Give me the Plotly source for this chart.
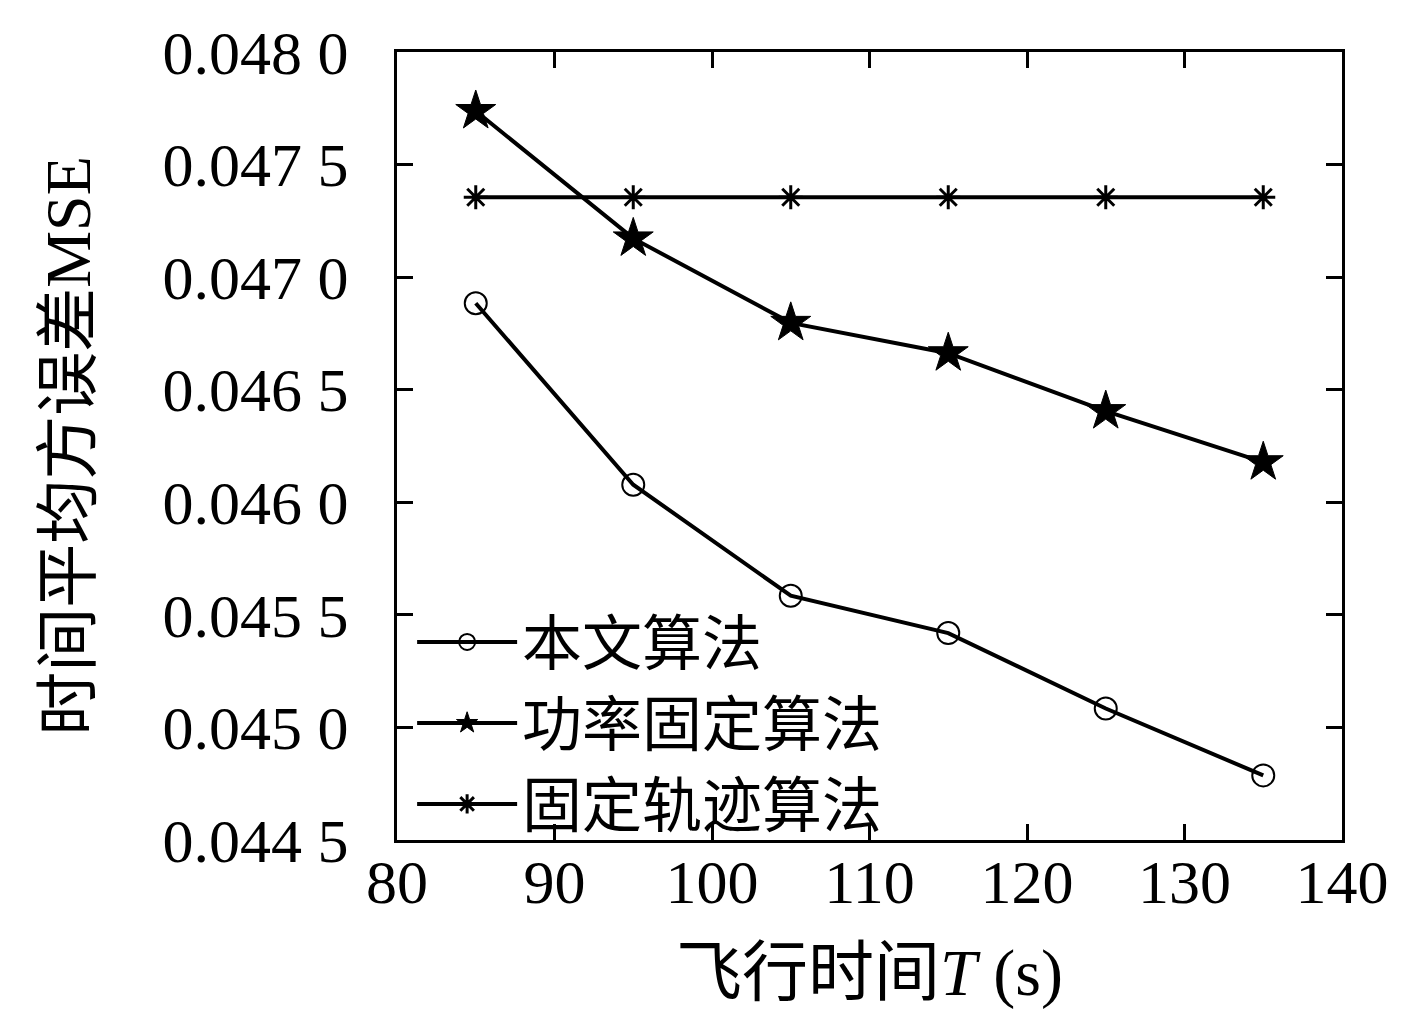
import plotly.graph_objects as go

flight_time = [85, 95, 105, 115, 125, 135]
mse_proposed = [0.046884, 0.046078, 0.045585, 0.045419, 0.045084, 0.044787]
mse_fixed_power = [0.047738, 0.047172, 0.046797, 0.046662, 0.046405, 0.046178]
mse_fixed_traj = [0.047355] * 6

y_ticks = [0.0445, 0.0450, 0.0455, 0.0460, 0.0465, 0.0470, 0.0475, 0.0480]
y_labels = ["0.044 5", "0.045 0", "0.045 5", "0.046 0", "0.046 5", "0.047 0", "0.047 5", "0.048 0"]

serif = "Liberation Serif, Noto Sans CJK SC, serif"

fig = go.Figure()

fig.add_trace(go.Scatter(
    x=flight_time, y=mse_proposed,
    mode='lines+markers',
    line=dict(color='black', width=4),
    marker=dict(symbol='circle-open', size=22, color='black', line=dict(width=2)),
    name='本文算法'
))

fig.add_trace(go.Scatter(
    x=flight_time, y=mse_fixed_power,
    mode='lines+markers',
    line=dict(color='black', width=4),
    marker=dict(symbol='star', size=30, color='black', line=dict(width=1, color='black')),
    name='功率固定算法'
))

fig.add_trace(go.Scatter(
    x=flight_time, y=mse_fixed_traj,
    mode='lines+markers',
    line=dict(color='black', width=4),
    marker=dict(symbol='asterisk-open', size=20, color='black', line=dict(width=3, color='black')),
    name='固定轨迹算法'
))

axis_style = dict(
    showline=True, linecolor='black', linewidth=3, mirror='ticks',
    ticks='inside', ticklen=16, tickwidth=2.5, tickcolor='black',
    showgrid=False, zeroline=False, ticklabeloverflow='allow', automargin=False,
    tickfont=dict(family=serif, size=62, color='black'),
)

fig.update_xaxes(
    range=[80, 140], tickvals=[80, 90, 100, 110, 120, 130, 140],
    ticklabelstandoff=-14,
    title=dict(text='飞行时间<i>T</i> (s)', font=dict(family=serif, size=66, color='black'), standoff=34),
    **axis_style
)
fig.update_yaxes(
    range=[0.0445, 0.0480], tickvals=y_ticks, ticktext=y_labels,
    ticklabelstandoff=33,
    title=dict(text='时间平均方误差MSE', font=dict(family=serif, size=64, color='black'), standoff=52),
    **axis_style
)

fig.update_layout(
    width=1409, height=1009,
    margin=dict(l=389, r=75, t=44, b=177),
    plot_bgcolor='white', paper_bgcolor='white',
    showlegend=True,
    legend=dict(
        x=0.016, y=-0.012, xanchor='left', yanchor='bottom',
        bgcolor='rgba(0,0,0,0)', borderwidth=0,
        font=dict(family=serif, size=60, color='black'),
        itemwidth=100, tracegroupgap=0,
    ),
)

fig.write_html("out.html")
